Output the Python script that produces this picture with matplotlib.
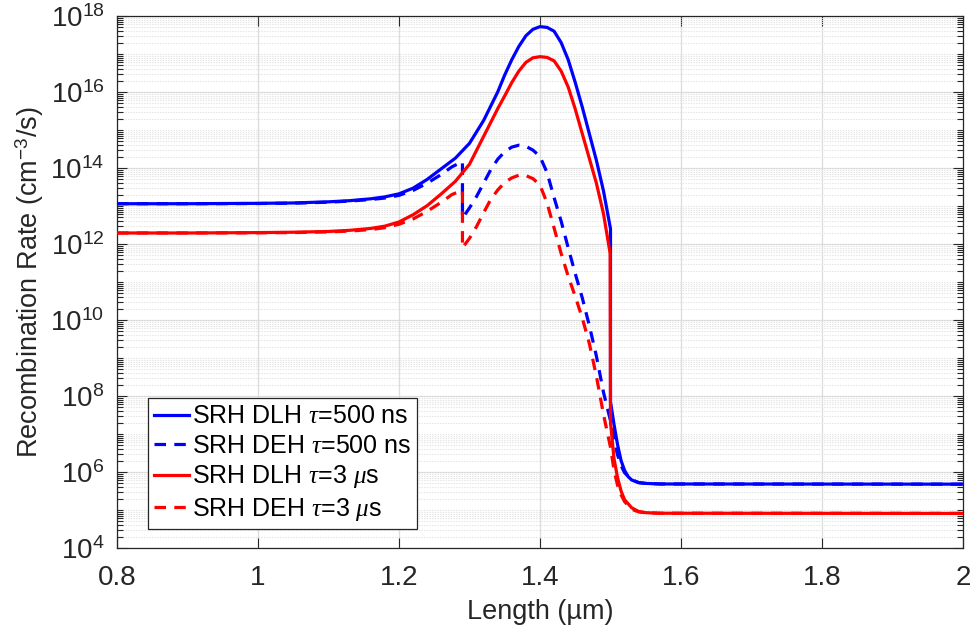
import numpy as np
import matplotlib
matplotlib.use("Agg")
import matplotlib.pyplot as plt
from matplotlib.ticker import FixedLocator, FormatStrFormatter, LogFormatterMathtext, NullFormatter

plt.rcParams['font.family'] = ['Liberation Sans', 'DejaVu Sans']
plt.rcParams['mathtext.fontset'] = 'custom'
plt.rcParams['mathtext.rm'] = 'Liberation Sans'
plt.rcParams['mathtext.it'] = 'Liberation Serif:italic'
plt.rcParams['mathtext.bf'] = 'Liberation Sans:bold'

# Position along the device (µm) and log10 of the SRH recombination rate (cm^-3/s)
x_dlh_500 = [0.80, 0.90, 1.00, 1.05, 1.10, 1.13, 1.16, 1.18, 1.20, 1.22, 1.24, 1.26,
             1.28, 1.30, 1.32, 1.34, 1.35, 1.36, 1.37, 1.38, 1.39, 1.40, 1.41, 1.42,
             1.43, 1.44, 1.45, 1.46, 1.47, 1.48, 1.49, 1.50, 1.50, 1.505, 1.51, 1.515,
             1.52, 1.525, 1.53, 1.54, 1.55, 1.57, 2.00]
lg_dlh_500 = [13.06, 13.06, 13.07, 13.08, 13.11, 13.14, 13.19, 13.24, 13.32, 13.47,
              13.70, 13.98, 14.26, 14.65, 15.25, 16.00, 16.45, 16.85, 17.20, 17.48,
              17.65, 17.72, 17.70, 17.60, 17.30, 16.85, 16.25, 15.60, 14.90, 14.20,
              13.40, 12.40, 7.85, 7.25, 6.72, 6.30, 6.04, 5.88, 5.79, 5.72, 5.70,
              5.685, 5.68]

x_deh_500 = [0.80, 0.90, 1.00, 1.05, 1.10, 1.13, 1.16, 1.18, 1.20, 1.22, 1.24, 1.26,
             1.275, 1.29, 1.29, 1.30, 1.31, 1.32, 1.33, 1.34, 1.35, 1.36, 1.37, 1.38,
             1.39, 1.40, 1.41, 1.42, 1.43, 1.44, 1.45, 1.46, 1.47, 1.48, 1.49, 1.50,
             1.505, 1.51, 1.515, 1.52, 1.53, 1.54, 1.55, 1.57, 2.00]
lg_deh_500 = [13.06, 13.06, 13.065, 13.075, 13.10, 13.13, 13.17, 13.21, 13.28, 13.41,
              13.60, 13.83, 14.03, 14.17, 12.68, 12.95, 13.25, 13.60, 13.95, 14.23,
              14.43, 14.55, 14.60, 14.57, 14.47, 14.30, 13.88, 13.22, 12.60, 11.90,
              11.22, 10.58, 9.85, 9.05, 8.10, 7.35, 6.85, 6.45, 6.17, 5.98, 5.80,
              5.72, 5.70, 5.685, 5.68]

x_dlh_3 = [0.80, 0.90, 1.00, 1.05, 1.10, 1.13, 1.16, 1.18, 1.20, 1.22, 1.24, 1.26,
           1.28, 1.30, 1.32, 1.34, 1.35, 1.36, 1.37, 1.38, 1.39, 1.40, 1.41, 1.42,
           1.43, 1.44, 1.45, 1.46, 1.47, 1.48, 1.49, 1.4995, 1.50, 1.505, 1.51,
           1.515, 1.52, 1.53, 1.54, 1.55, 1.57, 2.00]
lg_dlh_3 = [12.29, 12.29, 12.30, 12.31, 12.33, 12.36, 12.41, 12.47, 12.58, 12.77,
            13.01, 13.32, 13.65, 14.10, 14.83, 15.56, 15.90, 16.25, 16.55, 16.78,
            16.90, 16.93, 16.91, 16.82, 16.55, 16.13, 15.55, 14.90, 14.25, 13.60,
            12.80, 11.75, 7.30, 6.35, 5.85, 5.50, 5.27, 5.06, 4.96, 4.93, 4.915, 4.91]

x_deh_3 = [0.80, 0.90, 1.00, 1.05, 1.10, 1.13, 1.16, 1.18, 1.20, 1.22, 1.24, 1.26,
           1.275, 1.29, 1.29, 1.30, 1.31, 1.32, 1.33, 1.34, 1.35, 1.36, 1.37, 1.376,
           1.38, 1.39, 1.40, 1.41, 1.42, 1.43, 1.44, 1.45, 1.46, 1.47, 1.48, 1.49,
           1.50, 1.505, 1.51, 1.515, 1.52, 1.53, 1.54, 1.55, 1.57, 2.00]
lg_deh_3 = [12.29, 12.29, 12.295, 12.30, 12.32, 12.34, 12.38, 12.43, 12.52, 12.66,
            12.86, 13.10, 13.30, 13.42, 11.90, 12.15, 12.46, 12.82, 13.17, 13.42,
            13.62, 13.74, 13.81, 13.82, 13.80, 13.72, 13.55, 13.08, 12.42, 11.75,
            11.15, 10.62, 10.05, 9.38, 8.52, 7.52, 6.65, 6.05, 5.65, 5.40, 5.22,
            5.02, 4.95, 4.93, 4.915, 4.91]

labels = [r'SRH DLH $\tau$=500 ns', r'SRH DEH $\tau$=500 ns',
          r'SRH DLH $\tau$=3 $\mu$s', r'SRH DEH $\tau$=3 $\mu$s']

x_ticks = [0.8, 1.0, 1.2, 1.4, 1.6, 1.8, 2.0]
y_exponents = [4, 6, 8, 10, 12, 14, 16, 18]

ink = '#262626'
fig = plt.figure(figsize=(9.74, 6.41), dpi=100)
ax = fig.add_axes([117 / 974, 1 - 548 / 641, 846 / 974, 532 / 641])

lw = 2.3
dash = (3.6, 2.6)
series = [
    (x_dlh_500, lg_dlh_500, '#0000ff', None, labels[0], 3),
    (x_deh_500, lg_deh_500, '#0000ff', dash, labels[1], 3),
    (x_dlh_3, lg_dlh_3, '#ff0000', None, labels[2], 4),
    (x_deh_3, lg_deh_3, '#ff0000', dash, labels[3], 4),
]
for xs, lg, col, ds, lab, z in series:
    kw = dict(color=col, lw=lw, label=lab, zorder=z, solid_joinstyle='round')
    if ds is not None:
        kw['dashes'] = ds
    ax.plot(xs, np.power(10.0, lg), **kw)

ax.set_yscale('log')
ax.set_xlim(0.8, 2.0)
ax.set_ylim(1e4, 1e18)

ax.set_xticks(x_ticks)
ax.xaxis.set_major_formatter(FormatStrFormatter('%g'))
majors = [10.0 ** e for e in y_exponents]
ax.yaxis.set_major_locator(FixedLocator(majors))
ax.yaxis.set_major_formatter(LogFormatterMathtext())
minors = [k * 10.0 ** n for n in range(4, 18) for k in range(1, 10)
          if not (k == 1 and n in y_exponents)]
ax.yaxis.set_minor_locator(FixedLocator(minors))
ax.yaxis.set_minor_formatter(NullFormatter())

ax.grid(True, which='major', color='#dcdcdc', lw=0.9, ls='-', zorder=0)
ax.grid(True, which='minor', axis='y', color='#e4e4e4', lw=0.8, ls=(0, (1.2, 1.2)), zorder=0)
ax.set_axisbelow(True)

ax.tick_params(which='both', direction='in', top=True, right=True, colors=ink,
               labelsize=20, width=0.8)
ax.tick_params(which='major', length=7)
ax.tick_params(which='minor', length=4)
ax.tick_params(axis='x', which='major', pad=12)
ax.tick_params(axis='y', which='major', pad=9)
for s in ax.spines.values():
    s.set_color(ink)
    s.set_linewidth(0.9)

ax.set_xlabel('Length (µm)', fontsize=19.5, color=ink, labelpad=6)
ax.set_ylabel('Recombination Rate (cm$^{-3}$/s)', fontsize=19.5, color=ink, labelpad=3)

leg = ax.legend(loc='lower left', bbox_to_anchor=(31 / 846, 19 / 532), borderaxespad=0,
                fontsize=18, handlelength=1.4, handletextpad=0.1, labelspacing=0.22,
                borderpad=0.25, fancybox=False, framealpha=1, edgecolor=ink)
leg.get_frame().set_linewidth(0.9)
for t in leg.get_texts():
    t.set_color('black')

fig.savefig('out.png', dpi=100)
